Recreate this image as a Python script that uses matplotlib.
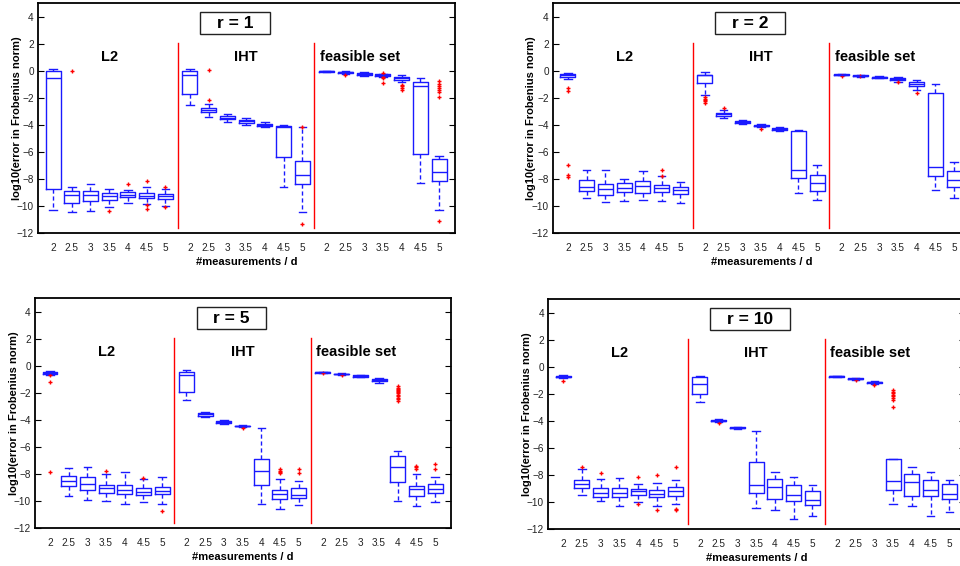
import numpy as np
import matplotlib
matplotlib.use("Agg")
import matplotlib.pyplot as plt
from matplotlib.patches import Rectangle

plt.rcParams['font.family'] = ['Liberation Sans', 'DejaVu Sans']

r_values = [1, 2, 5, 10]
groups = ["L2", "IHT", "feasible set"]
ratios = ["2", "2.5", "3", "3.5", "4", "4.5", "5"]

# one row per box: lower whisker, q1, median, q3, upper whisker
# order: L2 (7 ratios), IHT (7 ratios), feasible set (7 ratios)
r1_boxes = [
    [-10.26, -8.76, -0.5, -0.05, 0.12],
    [-10.43, -9.77, -9.2, -8.9, -8.6],
    [-10.33, -9.6, -9.2, -8.9, -8.4],
    [-10.06, -9.55, -9.25, -9.03, -8.7],
    [-9.77, -9.33, -9.15, -8.98, -8.83],
    [-9.87, -9.4, -9.23, -9.03, -8.6],
    [-10.0, -9.47, -9.28, -9.1, -8.76],
    [-2.5, -1.74, -0.3, -0.05, 0.12],
    [-3.44, -3.07, -2.9, -2.72, -2.43],
    [-3.78, -3.56, -3.46, -3.36, -3.19],
    [-3.98, -3.83, -3.73, -3.63, -3.46],
    [-4.12, -4.05, -3.98, -3.9, -3.8],
    [-8.59, -6.36, -4.12, -4.1, -3.98],
    [-10.43, -8.37, -7.7, -6.7, -4.15],
    [-0.12, -0.08, -0.05, -0.03, 0.0],
    [-0.22, -0.17, -0.12, -0.08, -0.03],
    [-0.39, -0.32, -0.25, -0.17, -0.07],
    [-0.46, -0.39, -0.32, -0.27, -0.22],
    [-0.86, -0.69, -0.56, -0.47, -0.29],
    [-8.3, -6.13, -1.1, -0.86, -0.52],
    [-10.28, -8.17, -7.48, -6.48, -6.31],
]
r1_fliers = [
    [], [0.0], [], [-10.38], [-8.34], [-8.17, -9.94, -10.23], [-8.6, -10.04],
    [], [0.05, -2.18], [], [], [], [], [-4.15, -11.31],
    [], [-0.3], [], [-0.15, -0.49, -0.56, -0.9], [-1.06, -1.13, -1.28, -1.4], [],
    [-0.74, -0.98, -1.13, -1.28, -1.42, -1.57, -1.91, -11.12],
]

r2_boxes = [
    [-0.59, -0.47, -0.34, -0.25, -0.15],
    [-9.42, -8.88, -8.56, -8.1, -7.36],
    [-9.69, -9.15, -8.71, -8.39, -7.36],
    [-9.64, -8.93, -8.66, -8.29, -7.98],
    [-9.57, -9.03, -8.52, -8.17, -7.39],
    [-9.6, -8.93, -8.64, -8.44, -7.78],
    [-9.74, -9.13, -8.81, -8.56, -8.22],
    [-1.79, -0.88, -0.34, -0.29, -0.12],
    [-3.48, -3.31, -3.21, -3.12, -2.87],
    [-3.9, -3.83, -3.75, -3.68, -3.61],
    [-4.15, -4.1, -4.05, -4.0, -3.93],
    [-4.42, -4.34, -4.27, -4.2, -4.15],
    [-9.03, -7.95, -7.36, -4.47, -4.37],
    [-9.57, -8.88, -8.29, -7.7, -6.97],
    [-0.34, -0.31, -0.29, -0.27, -0.25],
    [-0.44, -0.41, -0.37, -0.34, -0.32],
    [-0.56, -0.52, -0.47, -0.42, -0.37],
    [-0.79, -0.69, -0.61, -0.54, -0.44],
    [-1.42, -1.13, -0.96, -0.79, -0.66],
    [-8.81, -7.75, -7.12, -1.62, -1.0],
    [-9.4, -8.59, -8.07, -7.41, -6.72],
]
r2_fliers = [
    [-1.28, -1.47, -6.99, -7.68, -7.85], [], [], [], [], [-7.36, -7.75], [],
    [-1.95, -2.05, -2.15, -2.25, -2.4], [-2.75], [], [-4.29], [], [], [],
    [-0.39], [-0.37], [], [-0.83], [-1.67], [], [],
]

r5_boxes = [
    [-0.69, -0.61, -0.51, -0.44, -0.37],
    [-9.66, -8.87, -8.55, -8.16, -7.57],
    [-9.93, -9.19, -8.73, -8.24, -7.45],
    [-10.0, -9.41, -9.04, -8.8, -8.01],
    [-10.2, -9.49, -9.19, -8.8, -7.84],
    [-10.07, -9.53, -9.31, -9.02, -8.36],
    [-10.2, -9.49, -9.29, -8.95, -8.19],
    [-2.55, -1.91, -0.71, -0.44, -0.34],
    [-3.8, -3.68, -3.6, -3.53, -3.43],
    [-4.29, -4.22, -4.14, -4.07, -4.02],
    [-4.53, -4.49, -4.46, -4.43, -4.41],
    [-10.25, -8.82, -7.79, -6.91, -4.63],
    [-10.61, -9.85, -9.46, -9.22, -8.38],
    [-10.29, -9.75, -9.58, -9.04, -8.53],
    [-0.54, -0.51, -0.49, -0.47, -0.47],
    [-0.69, -0.64, -0.61, -0.58, -0.56],
    [-0.86, -0.81, -0.76, -0.71, -0.69],
    [-1.27, -1.15, -1.05, -0.96, -0.88],
    [-10.02, -8.6, -7.52, -6.69, -6.32],
    [-10.34, -9.61, -9.14, -8.9, -8.04],
    [-10.07, -9.39, -9.14, -8.73, -8.19],
]
r5_fliers = [
    [-0.71, -1.23, -7.87], [], [], [-7.75], [], [-8.33], [-10.71],
    [], [], [], [-4.58], [], [-7.6, -7.75, -7.84, -7.94], [-7.65, -7.94],
    [-0.56], [-0.69], [], [],
    [-1.5, -1.62, -1.72, -1.8, -1.88, -1.96, -2.05, -2.15, -2.25, -2.35, -2.45, -2.6],
    [-7.38, -7.5, -7.65], [-7.3, -7.65],
]

r10_boxes = [
    [-0.86, -0.78, -0.74, -0.66, -0.61],
    [-9.49, -8.97, -8.63, -8.36, -7.52],
    [-9.95, -9.63, -9.34, -8.97, -8.28],
    [-10.32, -9.61, -9.34, -8.95, -8.24],
    [-9.98, -9.44, -9.19, -9.04, -8.68],
    [-10.25, -9.61, -9.39, -9.12, -8.6],
    [-10.1, -9.56, -9.17, -8.9, -8.38],
    [-2.62, -2.03, -1.3, -0.78, -0.64],
    [-4.09, -4.02, -3.97, -3.92, -3.85],
    [-4.56, -4.52, -4.49, -4.47, -4.44],
    [-10.42, -9.31, -8.73, -7.06, -4.75],
    [-10.56, -9.8, -8.87, -8.28, -7.79],
    [-11.25, -9.9, -9.46, -8.75, -8.16],
    [-11.05, -10.2, -9.83, -9.17, -8.75],
    [-0.76, -0.73, -0.71, -0.69, -0.66],
    [-0.96, -0.91, -0.88, -0.85, -0.81],
    [-1.3, -1.23, -1.15, -1.1, -1.03],
    [-10.17, -9.09, -8.46, -6.79, -6.79],
    [-10.32, -9.53, -8.53, -7.92, -7.43],
    [-11.0, -9.58, -9.09, -8.36, -7.75],
    [-10.76, -9.75, -9.39, -8.63, -8.36],
]
r10_fliers = [
    [-1.03], [-7.38], [-7.84], [], [-8.16, -10.15], [-7.97, -10.56], [-7.4, -10.54, -10.61],
    [], [-4.17], [], [], [], [], [],
    [], [-0.96], [-1.37], [-1.72, -1.85, -1.95, -2.05, -2.15, -2.3, -2.45, -2.97], [], [], [],
]

all_boxes = [r1_boxes, r2_boxes, r5_boxes, r10_boxes]
all_fliers = [r1_fliers, r2_fliers, r5_fliers, r10_fliers]

# axes rectangles in figure fraction; right column runs off the canvas like the source
axes_rects = [
    [0.0396, 0.588, 0.4344, 0.4064],
    [0.576, 0.588, 0.4344, 0.4064],
    [0.0365, 0.067, 0.4333, 0.4064],
    [0.571, 0.065, 0.4344, 0.4064],
]

gap = 7.3
positions = np.concatenate([np.arange(7) + 1 + g * gap for g in range(3)])
blue = (0.1, 0.1, 1.0)

fig = plt.figure(figsize=(9.6, 5.66), dpi=100)
axes = []
for k in range(4):
    ax = fig.add_axes(axes_rects[k])
    axes.append(ax)
    stats = []
    for row, fl in zip(all_boxes[k], all_fliers[k]):
        stats.append(dict(whislo=row[0], q1=row[1], med=row[2], q3=row[3],
                          whishi=row[4], fliers=fl))
    ax.bxp(stats, positions=positions, widths=0.8, capwidths=0.4,
           boxprops=dict(color=blue, lw=1.0),
           medianprops=dict(color=blue, lw=1.0),
           whiskerprops=dict(color=blue, lw=1.0, ls=(0, (3, 2))),
           capprops=dict(color=blue, lw=1.0),
           flierprops=dict(marker='+', markeredgecolor='red', markersize=3,
                           markeredgewidth=1.0, linestyle='none'),
           manage_ticks=False)

    for g in range(2):
        xs = (positions[7 * g + 6] + positions[7 * g + 7]) / 2
        ax.plot([xs, xs], [-11.6, 2.05], color='red', lw=1.0)

    ax.text(positions[3], 1.0, groups[0], ha='center', va='center',
            fontsize=10.5, fontweight='bold')
    ax.text(positions[10], 1.0, groups[1], ha='center', va='center',
            fontsize=10.5, fontweight='bold')
    ax.text(positions[14] - 0.35, 1.0, groups[2], ha='left', va='center',
            fontsize=10.5, fontweight='bold')

    ax.set_xlim(0.2, 22.45)
    ax.set_ylim(-12, 5)
    ax.set_yticks(np.arange(-12, 5, 2))
    ax.set_xticks(positions)
    ax.set_xticklabels(ratios * 3)
    ax.tick_params(axis='x', length=0, pad=7, labelsize=7.2, colors='#222222')
    ax.tick_params(axis='y', direction='in', right=True, length=4,
                   width=0.8, labelsize=7.2, labelcolor='#222222', pad=3)
    for sp in ax.spines.values():
        sp.set_linewidth(1.3)
    ax.set_xlabel("#measurements / d", fontsize=8, fontweight='bold', labelpad=3)
    ax.set_ylabel("log10(error in Frobenius norm)", fontsize=8, fontweight='bold')
    ax.yaxis.set_label_coords(-16.5 / (ax.bbox.width), 0.5)

    t = ax.text(0.389, 0.913, "r = %d" % r_values[k], transform=ax.transAxes,
                ha='left', va='center', fontsize=12.5, fontweight='bold')
    t.set_gid("title%d" % k)

# frame boxes around the "r = ..." labels, sized from the rendered text
fig.canvas.draw()
renderer = fig.canvas.get_renderer()
for ax in axes:
    t = [tx for tx in ax.texts if tx.get_gid() and tx.get_gid().startswith("title")][0]
    bb = t.get_window_extent(renderer)
    x0_ax = ax.transAxes.transform((0.389, 0.913))
    w = bb.width + 33
    h = 22
    t.set_x(0.389 + (16.5 / ax.bbox.width))
    rect = Rectangle((x0_ax[0], x0_ax[1] - h / 2), w, h, transform=None,
                     fill=True, facecolor='white', edgecolor='#222222', lw=1.0,
                     zorder=4)
    ax.add_artist(rect)
    t.set_zorder(5)

fig.savefig("out.png", dpi=100)
